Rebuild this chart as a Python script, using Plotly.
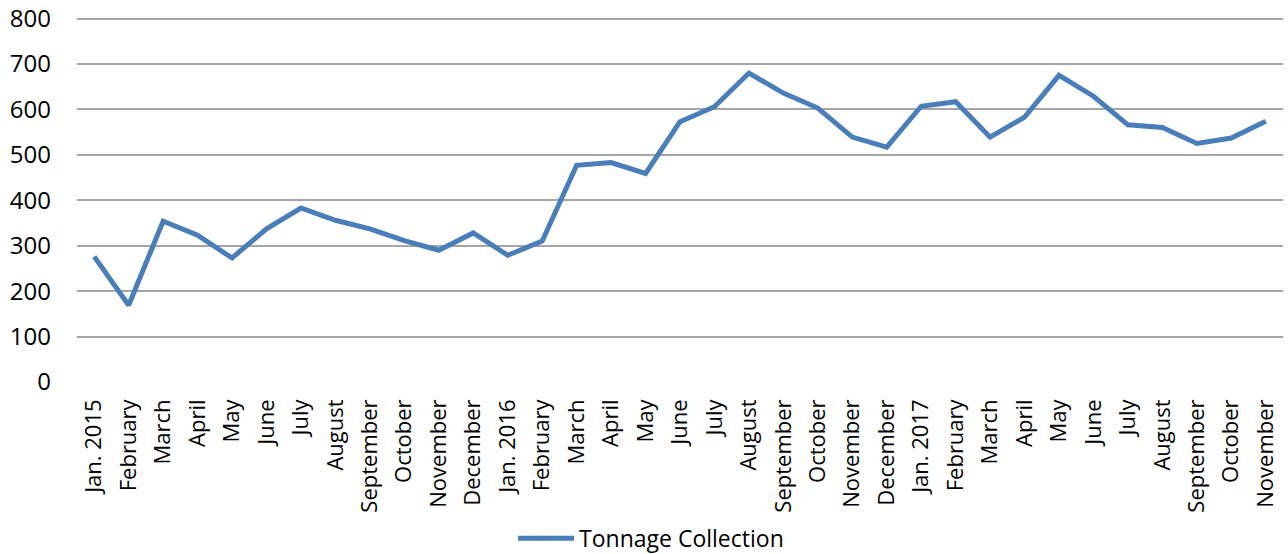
import plotly.graph_objects as go

# Monthly tonnage collected, Jan. 2015 - November 2017
months = [
    "Jan. 2015", "February", "March", "April", "May", "June", "July", "August",
    "September", "October", "November", "December",
    "Jan. 2016", "February", "March", "April", "May", "June", "July", "August",
    "September", "October", "November", "December",
    "Jan. 2017", "February", "March", "April", "May", "June", "July", "August",
    "September", "October", "November",
]
tonnage = [
    276, 169, 354, 323, 273, 337, 383, 356, 337, 311, 290, 328,
    279, 310, 477, 483, 459, 573, 606, 680, 636, 603, 539, 517,
    607, 617, 539, 583, 675, 629, 566, 560, 525, 537, 574,
]
y_ticks = [0, 100, 200, 300, 400, 500, 600, 700, 800]

idx = list(range(len(months)))

fig = go.Figure()
fig.add_trace(go.Scatter(
    x=idx, y=tonnage, mode="lines", name="Tonnage Collection",
    line=dict(color="#4A7EBB", width=5),
))

font_family = "Open Sans, DejaVu Sans, sans-serif"

fig.update_layout(
    width=1288, height=554,
    margin=dict(l=77, r=5, t=14, b=172, autoexpand=False),
    paper_bgcolor="white", plot_bgcolor="white",
    font=dict(family=font_family, color="black"),
    showlegend=True,
    legend=dict(orientation="h", x=0.476, xanchor="center", y=-0.425,
                yanchor="middle", itemwidth=56,
                font=dict(size=23, family=font_family)),
    xaxis=dict(
        range=[-0.5, len(months) - 0.5],
        tickmode="array", tickvals=idx, ticktext=months,
        tickangle=-90, tickfont=dict(size=22),
        showgrid=False, zeroline=False, showline=False, ticks="",
        ticklabelstandoff=12, automargin=False,
    ),
    yaxis=dict(
        range=[0, 810], tickmode="array", tickvals=y_ticks,
        tickfont=dict(size=24), showgrid=True, gridcolor="#A6A6A6",
        gridwidth=1.5, zeroline=False, showline=False, ticks="",
        ticklabelstandoff=25, automargin=False,
    ),
)

fig.write_html("out.html")
